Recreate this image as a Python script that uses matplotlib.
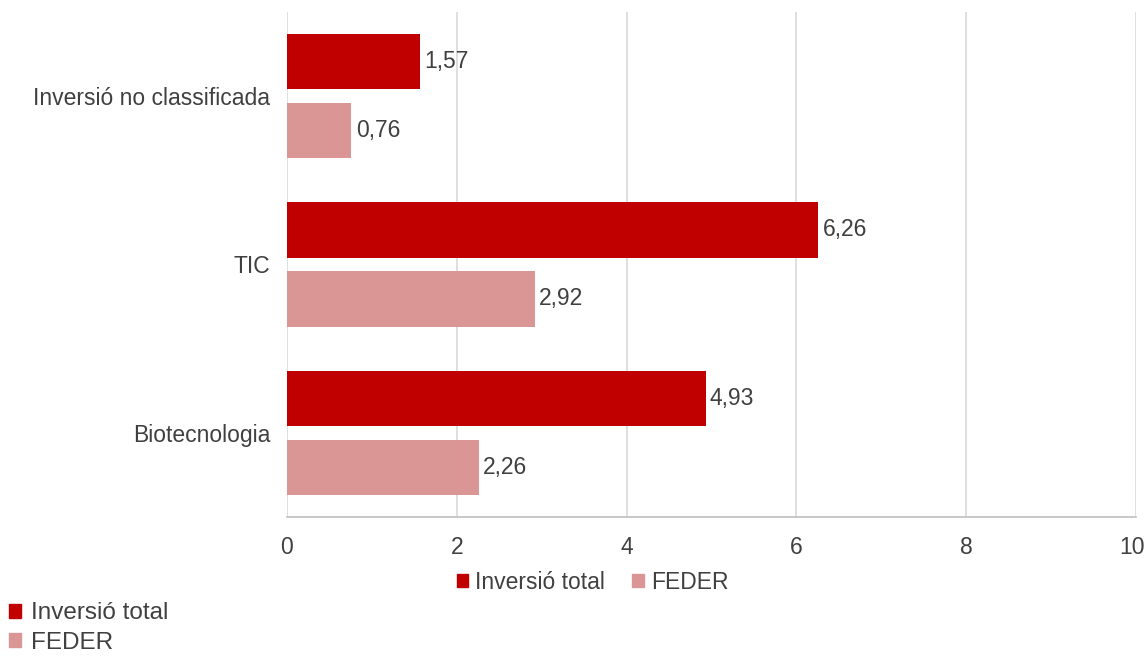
import matplotlib
matplotlib.use('Agg')
import numpy as np
import matplotlib.pyplot as plt
import matplotlib.transforms as mtrans
from matplotlib.patches import Patch

plt.rcParams['font.family'] = ['Liberation Sans', 'DejaVu Sans']
plt.rcParams['font.size'] = 16.5

categories = ['Biotecnologia', 'TIC', 'Inversió no classificada']
total = [4.93, 6.26, 1.57]
feder = [2.26, 2.92, 0.76]
series_names = ['Inversió total', 'FEDER']
xticks = [0, 2, 4, 6, 8, 10]

c_total = '#C00000'
c_feder = '#D99694'
txt = '#404040'

fig = plt.figure(figsize=(11.46, 6.64), dpi=100)
ax = fig.add_axes([0.2504, 0.2214, 0.7409, 0.7606])

y = np.arange(len(categories))
h = 0.33
ax.barh(y + 0.205, total, height=h, color=c_total, zorder=3)
ax.barh(y - 0.205, feder, height=h, color=c_feder, zorder=3)

for yi, v in zip(y, total):
    ax.text(v + 0.05, yi + 0.205, f'{v:.2f}'.replace('.', ','), va='center', ha='left', color=txt)
for yi, v in zip(y, feder):
    ax.text(v + 0.05, yi - 0.205, f'{v:.2f}'.replace('.', ','), va='center', ha='left', color=txt)

ax.set_xlim(0, 10)
ax.set_ylim(-0.5, 2.5)
ax.set_xticks(xticks)
ax.set_xticklabels([str(t) for t in xticks], color=txt)
ax.set_yticks(y)
ax.set_yticklabels(categories, color=txt)
ax.tick_params(axis='both', length=0)
ax.tick_params(axis='x', pad=14)
ax.tick_params(axis='y', pad=12)
ax.grid(axis='x', color='#D9D9D9', linewidth=1.2, zorder=0)
for s in ['top', 'right', 'left']:
    ax.spines[s].set_visible(False)
ax.spines['bottom'].set_color('#BFBFBF')
ax.spines['bottom'].set_linewidth(1.2)

# keep the last tick label inside the figure
last = ax.get_xticklabels()[-1]
last.set_transform(last.get_transform() + mtrans.ScaledTranslation(-4 / 100, 0, fig.dpi_scale_trans))

handles = [Patch(color=c_total), Patch(color=c_feder)]
fig.legend(handles, series_names, loc='center', bbox_to_anchor=(0.517, 0.123), ncol=2,
           frameon=False, handlelength=0.5, handleheight=0.5, handletextpad=0.3,
           columnspacing=1.2, labelcolor=txt)
fig.legend(handles, series_names, loc='upper left', bbox_to_anchor=(0.008, 0.093), ncol=1,
           frameon=False, handlelength=0.5, handleheight=0.5, handletextpad=0.4,
           labelspacing=0.3, borderaxespad=0, borderpad=0, prop={'size': 17.5}, labelcolor=txt)

fig.savefig('out.png', dpi=100)
